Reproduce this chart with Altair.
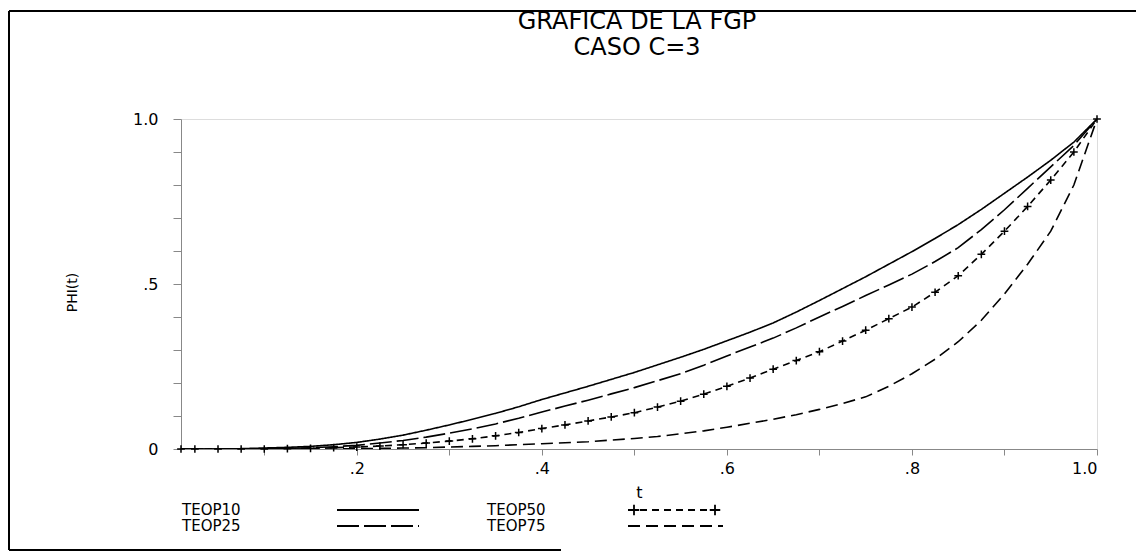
import altair as alt
import pandas as pd

FONT = "DejaVu Sans"

# ---- data ----
T = [0.01, 0.025, 0.05, 0.075, 0.1, 0.125, 0.15, 0.175, 0.2, 0.225, 0.25, 0.275, 0.3,
     0.325, 0.35, 0.375, 0.4, 0.425, 0.45, 0.475, 0.5, 0.525, 0.55, 0.575, 0.6, 0.625,
     0.65, 0.675, 0.7, 0.725, 0.75, 0.775, 0.8, 0.825, 0.85, 0.875, 0.9, 0.925, 0.95,
     0.975, 1.0]

TEOP10 = [0, 0, 0, .001, .003, .005, .008, .013, .02, .03, .042, .057, .073, .09, .108,
          .128, .15, .17, .19, .211, .232, .255, .278, .302, .328, .354, .382, .415, .45,
          .486, .522, .56, .598, .638, .68, .726, .775, .824, .875, .93, 1.0]
TEOP25 = [0, 0, 0, 0, .001, .002, .004, .007, .011, .018, .026, .036, .048, .061, .076,
          .093, .112, .13, .148, .167, .186, .207, .228, .254, .282, .309, .336, .367, .40,
          .432, .465, .497, .53, .568, .61, .665, .725, .79, .855, .92, 1.0]
TEOP50 = [0, 0, 0, 0, 0, .001, .002, .004, .006, .009, .013, .018, .024, .031, .04, .05,
          .062, .073, .085, .097, .11, .127, .145, .166, .19, .215, .242, .268, .295, .327,
          .36, .395, .43, .475, .525, .59, .66, .735, .815, .9, 1.0]
TEOP75 = [0, 0, 0, 0, 0, 0, 0, 0, .001, .002, .003, .004, .006, .008, .01, .013, .016,
          .019, .022, .027, .032, .038, .046, .055, .066, .078, .09, .104, .12, .138, .158,
          .19, .228, .272, .325, .39, .47, .56, .66, .8, 1.0]

SERIES = ["TEOP10", "TEOP25", "TEOP50", "TEOP75"]
VALUES = [TEOP10, TEOP25, TEOP50, TEOP75]

TITLE = ["GRAFICA DE LA FGP", "CASO C=3"]
X_TITLE = "t"
Y_TITLE = "PHI(t)"

# ---- tables built from the arrays ----
rows = []
for name, vals in zip(SERIES, VALUES):
    for t, v in zip(T, vals):
        rows.append({"t": t, "phi": v, "serie": name})
df = pd.DataFrame(rows)
df50 = df[df["serie"] == "TEOP50"]

# ---- layout (pixels, relative to plot origin) ----
W, H = 916, 330
PAD = {"left": 173, "top": 111, "right": 39, "bottom": 103}

title_df = pd.DataFrame({"text": TITLE, "tx": [456, 456], "ty": [-97, -71]})

leg_text_x = [1, 306]
leg_line_x = [(156, 238), (447, 542)]
leg_row_y = [391, 407]
leg_rows = []
for i, name in enumerate(SERIES):
    c, r = i // 2, i % 2
    leg_rows.append({"serie": name, "lx": leg_text_x[c], "ly": leg_row_y[r],
                     "sx": leg_line_x[c][0], "sx2": leg_line_x[c][1]})
leg_df = pd.DataFrame(leg_rows)
leg50 = leg_df[leg_df["serie"] == "TEOP50"]
leg50_pts = pd.DataFrame({"px": [leg50["sx"].iloc[0] + 6, leg50["sx2"].iloc[0] - 8],
                          "py": [leg50["ly"].iloc[0]] * 2})

frame_df = pd.DataFrame({
    "x": [-172, -172, -172], "x2": [-172, 955, 380],
    "y": [-108, -108, 431], "y2": [431, -108, 431],
})

PLUS = "M-1,0L1,0M0,-1L0,1"
dash_scale = alt.Scale(domain=SERIES, range=[[1, 0], [22, 5], [7, 5], [12, 6]])

xscale = alt.Scale(domain=[0.01, 1.0], nice=False, zero=False)
yscale = alt.Scale(domain=[0, 1], nice=False)

x_axis = alt.Axis(
    values=[round(0.1 * i, 1) for i in range(1, 11)], format=".1f",
    labelExpr="indexof(['0.2','0.4','0.6','0.8'], datum.label) >= 0 ? replace(datum.label, '0.', '.') : (datum.label == '1.0' ? '1.0' : '')",
    tickSize=6, labelPadding=5, titlePadding=8, grid=False,
    labelFont=FONT, labelFontSize=16, labelColor="black",
    titleFont=FONT, titleFontSize=16, titleFontWeight="normal", titleColor="black",
)
y_axis = alt.Axis(
    values=[round(0.1 * i, 1) for i in range(0, 11)], format=".1f",
    labelExpr="datum.label == '0.0' ? '0' : (datum.label == '0.5' ? '.5' : (datum.label == '1.0' ? '1.0' : ''))",
    tickSize=8, labelPadding=15, grid=False,
    labelFont=FONT, labelFontSize=16, labelColor="black",
    titleFont=FONT, titleFontSize=14, titleFontWeight="normal", titleColor="black",
    titleX=-109, titleY=173, titleBaseline="middle", titleAngle=270,
)

lines = alt.Chart(df).mark_line(color="black", strokeWidth=1.6, clip=True).encode(
    x=alt.X("t:Q", scale=xscale, axis=x_axis, title=X_TITLE),
    y=alt.Y("phi:Q", scale=yscale, axis=y_axis, title=Y_TITLE),
    detail="serie:N",
    strokeDash=alt.StrokeDash("serie:N", scale=dash_scale, legend=None),
)

pluses = alt.Chart(df50).mark_point(shape=PLUS, filled=False, color="black",
                                    size=60, strokeWidth=1.5, opacity=1).encode(
    x=alt.X("t:Q", scale=xscale, axis=None),
    y=alt.Y("phi:Q", scale=yscale, axis=None),
)

title_text = alt.Chart(title_df).mark_text(align="center", baseline="middle", font=FONT,
                                           fontSize=24, color="black").encode(
    x=alt.X("tx:Q", scale=None, axis=None),
    y=alt.Y("ty:Q", scale=None, axis=None),
    text="text:N",
)
leg_text = alt.Chart(leg_df).mark_text(align="left", baseline="middle", font=FONT,
                                       fontSize=15, color="black").encode(
    x=alt.X("lx:Q", scale=None, axis=None),
    y=alt.Y("ly:Q", scale=None, axis=None),
    text="serie:N",
)
leg_lines = alt.Chart(leg_df).mark_rule(color="black", strokeWidth=1.8).encode(
    x=alt.X("sx:Q", scale=None, axis=None),
    x2="sx2:Q",
    y=alt.Y("ly:Q", scale=None, axis=None),
    strokeDash=alt.StrokeDash("serie:N", scale=dash_scale, legend=None),
)
leg_pts = alt.Chart(leg50_pts).mark_point(shape=PLUS, filled=False, color="black",
                                          size=110, strokeWidth=1.8, opacity=1).encode(
    x=alt.X("px:Q", scale=None, axis=None),
    y=alt.Y("py:Q", scale=None, axis=None),
)
frame = alt.Chart(frame_df).mark_rule(color="black", strokeWidth=2).encode(
    x=alt.X("x:Q", scale=None, axis=None),
    x2="x2:Q",
    y=alt.Y("y:Q", scale=None, axis=None),
    y2="y2:Q",
)

chart = alt.layer(lines, pluses, leg_lines, leg_pts, leg_text, title_text, frame).resolve_scale(
    x="independent", y="independent"
).properties(
    width=W, height=H,
    autosize=alt.AutoSizeParams(type="none"),
    padding=PAD,
).configure_view(stroke=None).configure_axis(
    domainColor="black", domainWidth=2, tickColor="black", tickWidth=1.5,
).configure(background="white")

chart.save("out.html", embed_options={"renderer": "svg", "actions": False})
